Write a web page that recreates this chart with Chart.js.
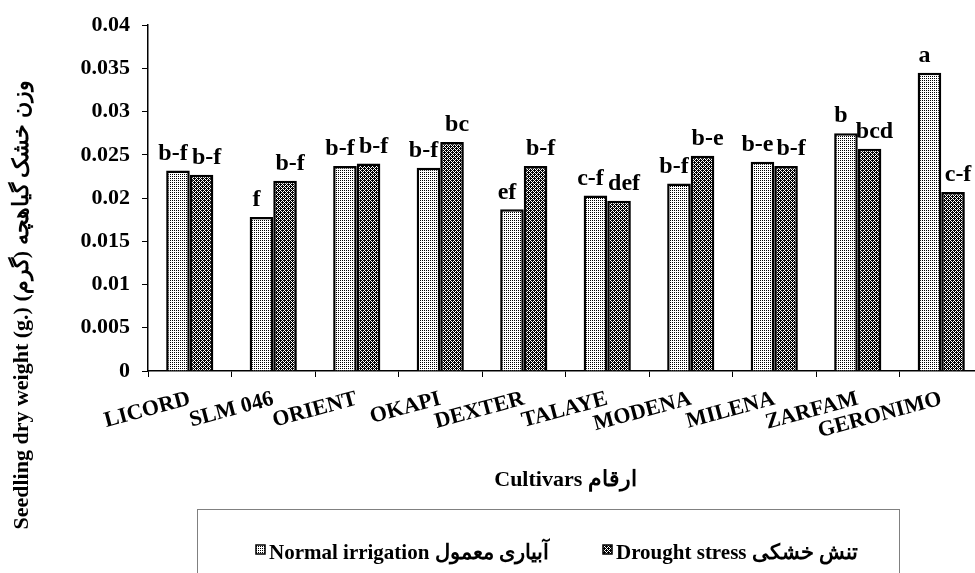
<!DOCTYPE html>
<html>
<head>
<meta charset="utf-8">
<script src="https://cdn.jsdelivr.net/npm/chart.js@4.4.1/dist/chart.umd.min.js"></script>
<style>
    html, body { margin: 0; padding: 0; background: #fff; overflow: hidden; }
    #wrap { width: 975px; height: 573px; position: relative; overflow: hidden; }
</style>
</head>
<body>
<div id="wrap"><canvas id="seedChart" width="985" height="573"></canvas></div>
<script>
const cultivars = ['LICORD', 'SLM 046', 'ORIENT', 'OKAPI', 'DEXTER', 'TALAYE', 'MODENA', 'MILENA', 'ZARFAM', 'GERONIMO'];
const normalValues = [0.0232, 0.0178, 0.0237, 0.0235, 0.0187, 0.0203, 0.0217, 0.0242, 0.0275, 0.0345];
const droughtValues = [0.0227, 0.0220, 0.0240, 0.0265, 0.0237, 0.0197, 0.0249, 0.0237, 0.0257, 0.0207];
const normalLetters = ['b-f', 'f', 'b-f', 'b-f', 'ef', 'c-f', 'b-f', 'b-e', 'b', 'a'];
const droughtLetters = ['b-f', 'b-f', 'b-f', 'bc', 'b-f', 'def', 'b-e', 'b-f', 'bcd', 'c-f'];
const yTickLabels = ['0', '0.005', '0.01', '0.015', '0.02', '0.025', '0.03', '0.035', '0.04'];

const serif = "'Liberation Serif', 'Times New Roman', 'DejaVu Serif', serif";

// hatch patterns like the excel fills
function makePattern(kind) {
    const c = document.createElement('canvas');
    c.width = 4; c.height = 4;
    const g = c.getContext('2d');
    g.fillStyle = '#fff';
    g.fillRect(0, 0, 4, 4);
    g.fillStyle = '#000';
    for (let y = 0; y < 4; y++) {
        for (let x = 0; x < 4; x++) {
            if (kind === 'dots') {
                if (x % 2 === 0 && y % 2 === 0) g.fillRect(x, y, 1, 1);
            } else {
                const white = (x + y) % 2 === 0 && !(x === 0 && y === 0) && !(x === 2 && y === 2);
                if (!white) g.fillRect(x, y, 1, 1);
            }
        }
    }
    return document.createElement('canvas').getContext('2d').createPattern(c, 'repeat');
}
const dotFill = makePattern('dots');
const checkFill = makePattern('check');

// letters above the bars, pushed a little apart like in the original
const letterPlugin = {
    id: 'letters',
    afterDatasetsDraw(chart) {
        const ctx = chart.ctx;
        const sets = [normalLetters, droughtLetters];
        const nudge = [-5, 5];
        ctx.save();
        ctx.font = 'bold 24px ' + serif;
        ctx.fillStyle = '#000';
        ctx.textAlign = 'center';
        ctx.textBaseline = 'bottom';
        sets.forEach((letters, di) => {
            chart.getDatasetMeta(di).data.forEach((bar, i) => {
                ctx.fillText(letters[i], bar.x + nudge[di], bar.y - 5);
            });
        });
        ctx.restore();
    }
};

// y title and the boxed legend under the chart
const extrasPlugin = {
    id: 'extras',
    afterDraw(chart) {
        const ctx = chart.ctx;
        ctx.save();
        ctx.fillStyle = '#000';
        ctx.font = 'bold 22px ' + serif;
        ctx.translate(22, 305);
        ctx.rotate(-Math.PI / 2);
        ctx.textAlign = 'center';
        ctx.textBaseline = 'middle';
        ctx.fillText('Seedling dry weight (g.) وزن خشک گیاهچه (گرم)', 0, 0);
        ctx.restore();

        ctx.save();
        ctx.strokeStyle = '#808080';
        ctx.lineWidth = 1;
        ctx.strokeRect(197.5, 509.5, 702, 90);
        const items = [
            { text: 'Normal irrigation آبیاری معمول', fill: dotFill, x: 256 },
            { text: 'Drought stress تنش خشکی', fill: checkFill, x: 603 }
        ];
        ctx.font = 'bold 21px ' + serif;
        ctx.textAlign = 'left';
        ctx.textBaseline = 'alphabetic';
        items.forEach(it => {
            ctx.fillStyle = it.fill;
            ctx.fillRect(it.x, 545, 9, 9);
            ctx.strokeStyle = '#000';
            ctx.lineWidth = 1.5;
            ctx.strokeRect(it.x, 545, 9, 9);
            ctx.fillStyle = '#000';
            ctx.fillText(it.text, it.x + 13, 559);
        });
        ctx.restore();
    }
};

const ctx = document.getElementById('seedChart').getContext('2d');

new Chart(ctx, {
    type: 'bar',
    data: {
        labels: cultivars,
        datasets: [{
            label: 'Normal irrigation',
            data: normalValues,
            backgroundColor: dotFill,
            borderColor: '#000',
            borderWidth: 2.5,
            categoryPercentage: 0.565,
            barPercentage: 1
        }, {
            label: 'Drought stress',
            data: droughtValues,
            backgroundColor: checkFill,
            borderColor: '#000',
            borderWidth: 2.5,
            categoryPercentage: 0.565,
            barPercentage: 1
        }]
    },
    options: {
        responsive: false,
        animation: false,
        layout: { padding: { top: 24, right: 2, bottom: 78, left: 0 } },
        plugins: {
            legend: { display: false },
            tooltip: { enabled: false }
        },
        scales: {
            x: {
                grid: { display: true, drawOnChartArea: false, tickLength: 6, color: '#000' },
                border: { color: '#000', width: 1.5 },
                ticks: {
                    color: '#000',
                    font: { family: serif, size: 22, weight: 'bold' },
                    minRotation: 15,
                    maxRotation: 15,
                    padding: 9,
                    autoSkip: false
                },
                title: {
                    display: true,
                    text: 'Cultivars ارقام',
                    color: '#000',
                    font: { family: serif, size: 22, weight: 'bold' },
                    padding: { top: 0, bottom: 1 }
                },
                afterFit(scale) { scale.height = 124; }
            },
            y: {
                min: 0,
                max: 0.04,
                grid: { display: true, drawOnChartArea: false, tickLength: 6, color: '#000' },
                border: { color: '#000', width: 1.5 },
                ticks: {
                    stepSize: 0.005,
                    color: '#000',
                    padding: 12,
                    font: { family: serif, size: 22, weight: 'bold' },
                    callback: (v, i) => yTickLabels[i]
                },
                afterFit(scale) { scale.width = 148; }
            }
        }
    },
    plugins: [letterPlugin, extrasPlugin]
});
</script>
</body>
</html>
